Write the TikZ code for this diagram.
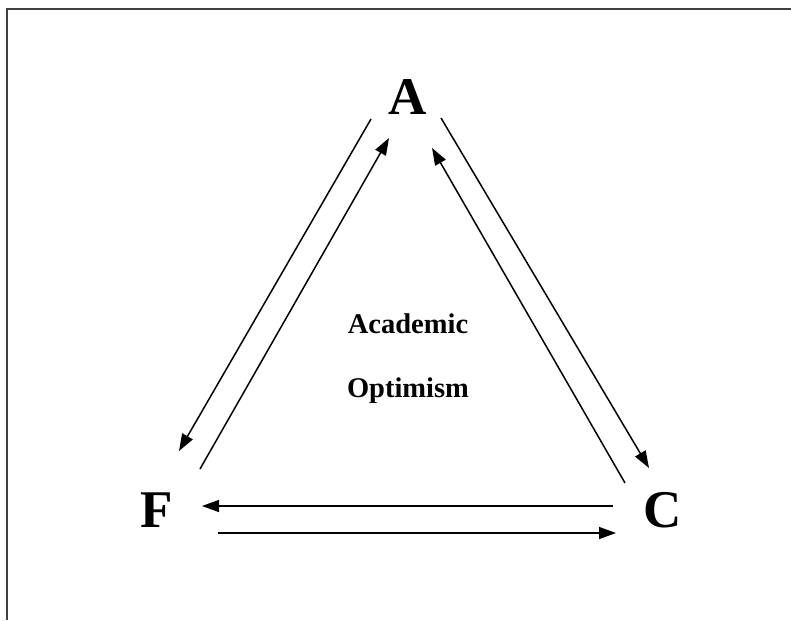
\documentclass[tikz,border=0pt]{standalone}
\usepackage{fontspec}
\setmainfont{Liberation Serif}
\usetikzlibrary{arrows.meta}
\begin{document}
\begin{tikzpicture}[x=1pt,y=-1pt,
  big/.style={font=\fontsize{53}{53}\selectfont\bfseries, anchor=base, inner sep=0pt},
  mid/.style={font=\fontsize{28.5}{28.5}\selectfont\bfseries, anchor=base, inner sep=0pt},
  conn/.style={line width=1.5pt, -{Triangle[length=17pt,width=12pt]}}]
\useasboundingbox (0,0) rectangle (791,620);
\draw[line width=2.5pt, black!75] (791,9) -- (7,9) -- (7,620);
\node[big] (A) at (408,115) {A};
\node[big] (F) at (157,527) {F};
\node[big] (C) at (663,527) {C};
\node[mid] (l1) at (408,333) {Academic};
\node[mid] (l2) at (408,397) {Optimism};
% left pair
\coordinate (a1) at (371,119); \coordinate (f1) at (179,451);
\coordinate (f2) at (200,469); \coordinate (a2) at (389,138);
% right pair
\coordinate (a3) at (441,118); \coordinate (c1) at (649,468);
\coordinate (c2) at (625,483); \coordinate (a4) at (432,148);
% bottom pair
\coordinate (c3) at (613,506); \coordinate (f3) at (202,506);
\coordinate (f4) at (218,533); \coordinate (c4) at (616,533);
\draw[conn] (a1) -- (f1);
\draw[conn] (f2) -- (a2);
\draw[conn] (a3) -- (c1);
\draw[conn] (c2) -- (a4);
\draw[conn] (c3) -- (f3);
\draw[conn] (f4) -- (c4);
\end{tikzpicture}
\end{document}
